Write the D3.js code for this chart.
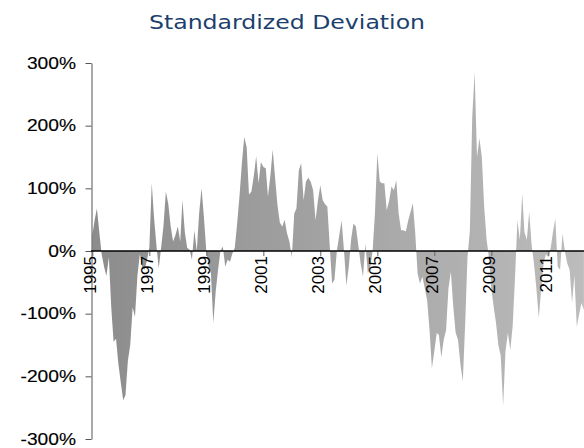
<!DOCTYPE html>
<html><head><meta charset="utf-8">
<script src="https://cdn.jsdelivr.net/npm/d3@7"></script>
<style>body{margin:0;background:#fff}svg{display:block}</style>
</head><body>
<svg id="c" width="584" height="448"></svg>
<script>
const title = "Standardized Deviation";
const startMonth = new Date(1995, 0, 1);
const endMonth = new Date(2012, 4, 1);
const yTicks = [-300, -200, -100, 0, 100, 200, 300];
const yearTicks = [1995, 1997, 1999, 2001, 2003, 2005, 2007, 2009, 2011];
// monthly standardized deviation (%), Jan 1995 .. Apr 2012
const values = [
 25, 50, 68, 30, -5, -25, -40, -10, -90, -145, -140, -180,
 -210, -238, -230, -175, -150, -90, -105, -40, -5, -25, -30, -15,
 5, 108, 55, 10, -28, 5, 40, 95, 75, 40, 15, 25,
 39, 15, 81, 30, 5, 2, -14, 33, 0, 60, 100, 55,
 0, -25, -35, -115, -65, -30, 0, 7, -25, -14, -17, -4,
 5, 45, 87, 140, 182, 166, 90, 95, 120, 151, 108, 142,
 134, 132, 87, 120, 162, 116, 73, 45, 39, 50, 28, 15,
 -10, 60, 68, 129, 140, 81, 111, 117, 110, 97, 49, 80,
 105, 81, 75, 71, 10, -52, -46, 0, 25, 49, 0, -55,
 -25, 20, 44, 39, 10, -20, -41, 12, -35, -28, 0, 60,
 156, 111, 108, 108, 65, 80, 103, 97, 113, 60, 33, 33,
 31, 49, 62, 76, 30, -36, -52, -41, -60, -78, -126, -187,
 -160, -131, -134, -170, -142, -126, -60, -33, -89, -130, -142, -180,
 -208, -115, -10, 33, 214, 286, 150, 180, 150, 71, 18, -10,
 -61, -90, -114, -150, -167, -247, -160, -131, -158, -120, -40, 49,
 18, 92, 30, 18, 63, 10, -20, -60, -107, -62, -20, -5,
 -10, 5, 30, 52, -25, -30, 28, 0, -20, -30, -83, -40,
 -121, -100, -83, -94
];
const dates = d3.timeMonth.range(startMonth, endMonth);
const data = dates.map((d, i) => ({date: d, v: values[i]}));

const svg = d3.select("#c");
const x = d3.scaleTime().domain([new Date(1995,0,1), new Date(2012,0,1)]).range([92.3, 576.8]);
const y = d3.scaleLinear().domain([-300, 300]).range([439, 63]);

const defs = svg.append("defs");
const g = defs.append("linearGradient").attr("id","gr").attr("gradientUnits","userSpaceOnUse")
  .attr("x1",92).attr("x2",584).attr("y1",0).attr("y2",0);
g.append("stop").attr("offset","0").attr("stop-color","#8c8c8c");
g.append("stop").attr("offset","1").attr("stop-color","#bcbcbc");

svg.append("path").datum(data)
  .attr("d", d3.area().x(d => x(d.date)).y0(y(0)).y1(d => y(d.v)))
  .attr("fill", "url(#gr)");

svg.append("text").attr("transform","translate(287,29) scale(1.18,1)").attr("text-anchor","middle")
  .attr("font-family","DejaVu Sans").attr("font-size",20).attr("fill","#1c3f6e")
  .text(title);

// y axis
const ya = svg.append("g").attr("transform","translate(91.5,0)")
  .call(d3.axisLeft(y).tickValues(yTicks).tickSize(6).tickSizeOuter(0).tickFormat(""));
ya.select(".domain").attr("stroke","#555");
ya.selectAll(".tick line").attr("stroke","#555");
svg.append("g").selectAll("text").data(yTicks).join("text")
  .attr("transform", d => `translate(76,${y(d)}) scale(1.2,1)`)
  .attr("dy","0.36em").attr("text-anchor","end")
  .attr("font-family","Liberation Sans, Arial").attr("font-size",16).attr("fill","#000")
  .attr("stroke","#000").attr("stroke-width",0.15)
  .text(d => d + "%");

// x axis
const xa = svg.append("g").attr("transform",`translate(0,${y(0)})`)
  .call(d3.axisBottom(x).tickValues(yearTicks.map(yr => new Date(yr,0,1))).tickSize(5).tickSizeOuter(0).tickFormat(""));
xa.select(".domain").remove();
xa.selectAll(".tick line").attr("stroke","#666");
svg.append("line").attr("x1",91).attr("x2",584).attr("y1",y(0)).attr("y2",y(0))
  .attr("stroke","#000").attr("stroke-width",1.3);
svg.append("g").selectAll("text").data(yearTicks).join("text")
  .attr("transform", d => `translate(${x(new Date(d,0,1)) + 4},256) rotate(-90)`)
  .attr("text-anchor","end")
  .attr("font-family","Liberation Sans, Arial").attr("font-size",17).attr("fill","#000")
  .text(d => d);
</script>
</body></html>
